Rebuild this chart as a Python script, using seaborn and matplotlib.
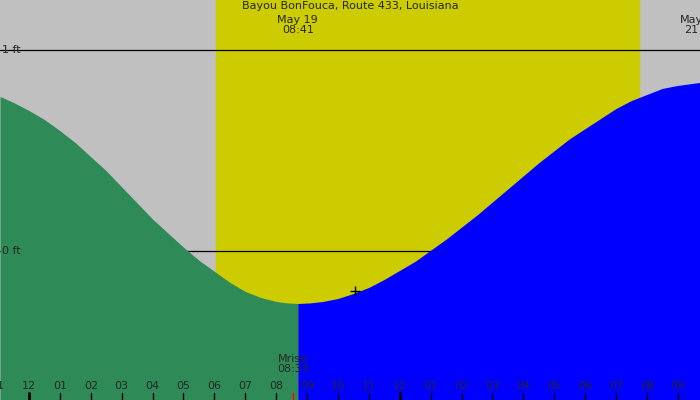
import matplotlib
matplotlib.use("Agg")
import matplotlib.pyplot as plt
import seaborn as sns
import numpy as np

sns.set_style("white")
plt.rcParams['font.family'] = ['DejaVu Sans']

hours = [-0.94, -0.5, 0, 0.5, 1, 1.5, 2, 2.5, 3, 3.5, 4, 4.5, 5, 5.5, 6, 6.5, 7, 7.5, 8, 8.35, 8.7,
         9.1, 9.5, 10, 10.5, 11, 11.5, 12, 12.5, 13, 13.5, 14, 14.5, 15, 15.5, 16, 16.5, 17, 17.5,
         18, 18.5, 19, 19.5, 20, 20.5, 21, 21.72]
heights = [0.77, 0.74, 0.70, 0.655, 0.60, 0.54, 0.47, 0.40, 0.32, 0.24, 0.16, 0.09, 0.02, -0.045, -0.10, -0.155, -0.20, -0.23, -0.25, -0.257, -0.26,
           -0.257, -0.25, -0.235, -0.21, -0.18, -0.14, -0.095, -0.05, 0.005, 0.06, 0.12, 0.18, 0.245, 0.31, 0.375, 0.44, 0.50, 0.56,
           0.61, 0.66, 0.71, 0.75, 0.78, 0.81, 0.825, 0.84]
tick_labels = ["11","12","01","02","03","04","05","06","07","08","09","10","11","12","01","02","03","04","05","06","07","08","09"]
tick_hours = list(range(-1, 22))
sunrise, sunset = 6.05, 19.74
moonrise = 8.55
low_hour = 8.7

x0, x1 = -0.94, 21.72
y0, y1 = -0.74, 1.25
fig = plt.figure(figsize=(7, 4), dpi=100)
ax = fig.add_axes([0, 0, 1, 1])
ax.set_xlim(x0, x1); ax.set_ylim(y0, y1)
ax.axis('off')
ax.add_patch(plt.Rectangle((x0, y0), x1-x0, y1-y0, color='#c0c0c0', zorder=0))
ax.axvspan(sunrise, sunset, color='#cccc00', zorder=1)
ax.axhline(0, color='black', lw=0.9, zorder=2)
h = np.array(hours); v = np.array(heights)
ax.fill_between(h, v, y0, where=h <= low_hour, color='#2e8b57', zorder=3, lw=0)
ax.fill_between(h, v, y0, where=h >= low_hour, color='#0000ff', zorder=3, lw=0)
ax.axhline(1, color='black', lw=0.9, zorder=4)
ax.plot([10.55], [-0.2], marker='+', color='black', ms=7, zorder=5)
ax.text(0.003, 1, "1 ft", fontsize=8, va='center', ha='left', transform=ax.get_yaxis_transform(), zorder=6)
ax.text(0.003, 0, "0 ft", fontsize=8, va='center', ha='left', transform=ax.get_yaxis_transform(), zorder=6)
for th, lab in zip(tick_hours, tick_labels):
    ax.text(th, -0.67, lab, fontsize=8, ha='center', va='center', zorder=6)
    lw = 2 if lab == "12" else 1
    ax.plot([th, th], [-0.705, y0], color='black', lw=lw, zorder=6)
ax.plot([moonrise, moonrise], [-0.705, y0], color='red', lw=1, zorder=6)
ax.text(moonrise, -0.56, "Mrise\n08:33", fontsize=8, ha='center', va='center', linespacing=0.95, zorder=6)
ax.text(0.5, 0.997, "Bayou BonFouca, Route 433, Louisiana", fontsize=8, ha='center', va='top', transform=ax.transAxes, zorder=6)
ax.text(8.7, 1.125, "May 19\n08:41", fontsize=8, ha='center', va='center', linespacing=0.95, zorder=6)
ax.text(21.45, 1.125, "May\n21", fontsize=8, ha='center', va='center', linespacing=0.95, zorder=6)
fig.savefig("out.png", dpi=100)
